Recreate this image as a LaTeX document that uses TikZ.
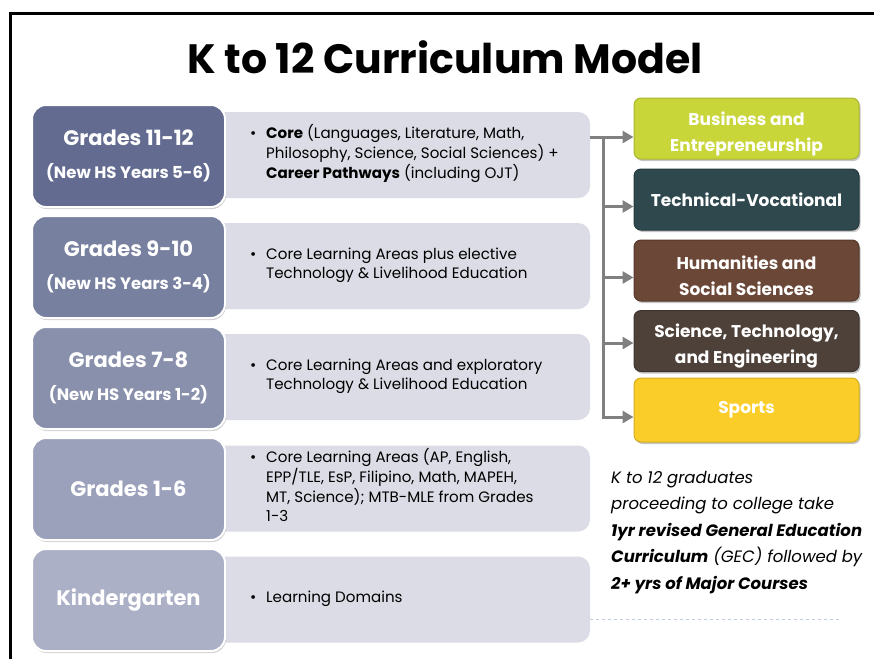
\documentclass[tikz,border=0pt]{standalone}
\usepackage{fontspec}
\setmainfont{Poppins}
\usetikzlibrary{arrows.meta,shadows}
\definecolor{gA}{RGB}{99,108,144}
\definecolor{gB}{RGB}{120,128,160}
\definecolor{gC}{RGB}{137,144,172}
\definecolor{gD}{RGB}{156,161,187}
\definecolor{gE}{RGB}{172,176,199}
\definecolor{panel}{RGB}{219,220,229}
\definecolor{cBus}{RGB}{200,214,58}
\definecolor{cTv}{RGB}{46,72,78}
\definecolor{cHum}{RGB}{107,71,55}
\definecolor{cSci}{RGB}{78,65,58}
\definecolor{cSp}{RGB}{250,205,40}
\definecolor{conn}{RGB}{128,128,128}
\definecolor{dashcol}{RGB}{190,205,225}
\tikzset{
  gradebox/.style={rounded corners=14pt, draw=white, line width=2pt, minimum width=193pt, minimum height=102pt,
    text=white, font=\bfseries, align=center, inner sep=0pt,
    drop shadow={shadow xshift=1pt, shadow yshift=-2pt, opacity=0.35}},
  panelbox/.style={rounded corners=12pt, fill=panel, minimum width=390pt, minimum height=86pt, inner sep=0pt},
  desc/.style={anchor=west, inner sep=0pt, font=\fontsize{15.1}{19}\selectfont, align=left},
  track/.style={rounded corners=7pt, minimum width=225pt, minimum height=61pt, text=white, align=center,
    font=\fontsize{17}{26}\selectfont\bfseries, inner sep=0pt, line width=1pt,
    drop shadow={shadow xshift=1.5pt, shadow yshift=-2pt, opacity=0.45}},
  link/.style={draw=conn, line width=3pt},
  linkarrow/.style={link, -{Triangle[length=11pt,width=12pt]}},
}
\newcommand{\bul}[1]{\makebox[16pt][l]{\textbullet}\begin{tabular}[t]{@{}l@{}}#1\end{tabular}}
\newcommand{\lowstrut}{\rule{0pt}{24pt}}
\begin{document}
\begin{tikzpicture}[x=1pt,y=-1pt]
\useasboundingbox (0,0) rectangle (874,659);
\fill[white] (0,0) rectangle (874,659);
% frame
\draw[line width=3pt] (10,659) -- (10,13.5) -- (874,13.5);
% title
\node (title) at (445,57) {\fontsize{41}{48}\selectfont\bfseries K to 12 Curriculum Model};
% dashed line
\coordinate (d1) at (590,619);
\coordinate (d2) at (840,619);
\draw[draw=dashcol, dashed, line width=1pt] (d1) -- (d2);
% panels
\node[panelbox] (p1) at (395,155) {};
\node[panelbox] (p2) at (395,266) {};
\node[panelbox] (p3) at (395,377) {};
\node[panelbox] (p4) at (395,488.5) {};
\node[panelbox] (p5) at (395,599.5) {};
% descriptions
\node[desc] (t1) at (250,154) {\bul{\textbf{Core} (Languages, Literature, Math,\\ Philosophy, Science, Social Sciences) +\\ \textbf{Career Pathways} (including OJT)}};
\node[desc] (t2) at (250,265) {\bul{Core Learning Areas plus elective\\ Technology \& Livelihood Education}};
\node[desc] (t3) at (250,376) {\bul{Core Learning Areas and exploratory\\ Technology \& Livelihood Education}};
\node[desc] (t4) at (250,488) {\bul{Core Learning Areas (AP, English,\\ EPP/TLE, EsP, Filipino, Math, MAPEH,\\ MT, Science); MTB-MLE from Grades\\ 1-3}};
\node[desc] (t5) at (250,599) {\bul{Learning Domains}};
% grade boxes
\node[gradebox, fill=gA] (g1) at (128.5,156) {\fontsize{21}{25}\selectfont Grades 11-12\\[17pt] \fontsize{16.5}{20}\selectfont (New HS Years 5-6)};
\node[gradebox, fill=gB] (g2) at (128.5,267) {\fontsize{21}{25}\selectfont Grades 9-10\\[17pt] \fontsize{16.5}{20}\selectfont (New HS Years 3-4)};
\node[gradebox, fill=gC] (g3) at (128.5,378) {\fontsize{21}{25}\selectfont Grades 7-8\\[17pt] \fontsize{16.5}{20}\selectfont (New HS Years 1-2)};
\node[gradebox, fill=gD] (g4) at (128.5,489) {\fontsize{21}{25}\selectfont Grades 1-6};
\node[gradebox, fill=gE] (g5) at (128.5,600) {\fontsize{21}{25}\selectfont Kindergarten};
% tracks
\node[track, fill=cBus, draw=cBus!85!black] (bus) at (746.5,128.5) {\lowstrut Business and\\ Entrepreneurship};
\node[track, fill=cTv, draw=cTv!80!black] (tv) at (746.5,199.5) {Technical-Vocational};
\node[track, fill=cHum, draw=cHum!80!black] (hum) at (746.5,270.5) {\lowstrut Humanities and\\ Social Sciences};
\node[track, fill=cSci, draw=cSci!80!black] (sci) at (746.5,341) {\lowstrut Science, Technology,\\ and Engineering};
\node[track, fill=cSp, draw=cSp!85!black, minimum height=64pt] (sp) at (746.5,410) {Sports};
% connectors
\coordinate (tr) at (603,137);
\draw[linkarrow] ([yshift=18pt]p1.east) -- ([yshift=18pt]p1.east -| bus.west);
\draw[linkarrow] (tr) |- ([yshift=-7pt]sp.west);
\draw[linkarrow] ([yshift=-7pt]tv.west -| tr) -- ([yshift=-7pt]tv.west);
\draw[linkarrow] ([yshift=-7pt]hum.west -| tr) -- ([yshift=-7pt]hum.west);
\draw[linkarrow] ([yshift=-2pt]sci.west -| tr) -- ([yshift=-2pt]sci.west);
% note
\node[anchor=north west, inner sep=0pt, align=left, font=\fontsize{16.5}{26.5}\selectfont\itshape] (note) at (611,471)
 {K to 12 graduates\\ proceeding to college take\\ \textbf{1yr revised General Education}\\ \textbf{Curriculum} (GEC) followed by\\ \textbf{2+ yrs of Major Courses}};
\end{tikzpicture}
\end{document}
